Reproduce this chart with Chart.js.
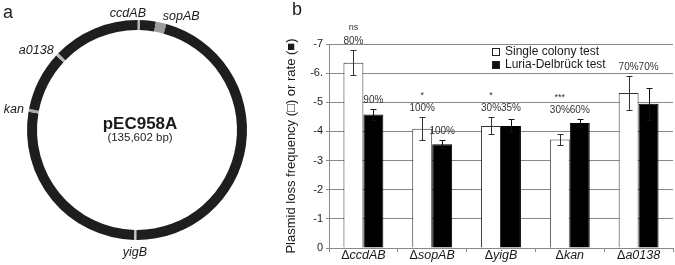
<!DOCTYPE html>
<html>
<head>
<meta charset="utf-8">
<script src="https://cdn.jsdelivr.net/npm/chart.js@4.4.0/dist/chart.umd.min.js"></script>
<style>
	body { margin: 0; background: #fff; width: 675px; height: 265px; position: relative; overflow: hidden; }
	#mapCanvas { position: absolute; left: 0; top: 0; }
	#barCanvas { position: absolute; left: 284px; top: 0; }
</style>
</head>
<body>
<canvas id="mapCanvas" width="284" height="265"></canvas>
<canvas id="barCanvas" width="391" height="265"></canvas>
<script>
const FONT = '"Liberation Sans", Arial, Helvetica, sans-serif';

// panel a: plasmid map (positions in kb)
const plasmidName = 'pEC958A';
const plasmidSize = '(135,602 bp)';
const plasmidKb = 135.602;
const genes = ['ccdAB', 'sopAB', 'yigB', 'kan', 'a0138'];
const geneStartKb = [0.15, 3.73, 67.95, 105.28, 117.79];
const geneLenKb = [0.45, 2.11, 0.45, 0.6, 0.6];
const geneColors = ['#b4b4b4', '#9c9c9c', '#c4c4c4', '#a8a8a8', '#b8b8b8'];

// panel b: plasmid loss (log10), negative values
const categories = ['ccdAB', 'sopAB', 'yigB', 'kan', 'a0138'];
const singleColony = [-6.36, -4.09, -4.19, -3.72, -5.32];
const singleColonyErr = [0.44, 0.39, 0.29, 0.18, 0.58];
const luriaDelbruck = [-4.58, -3.56, -4.19, -4.29, -4.95];
const luriaDelbruckErr = [0.18, 0.14, 0.22, 0.12, 0.55];
const singlePct = ['80%', '100%', '30%', '30%', '70%'];
const luriaPct = ['90%', '100%', '35%', '60%', '70%'];
const significance = ['ns', '*', '*', '***', ''];
const sharedLabelLevel = [false, false, true, true, true];
const yTickLabels = ['-7', '-6.', '-5', '-4', '-3', '-2', '-1', '0'];

// build ring segments: backbone in dark, genes as light marks
const segData = [];
const segColors = [];
let cursor = 0;
genes.forEach((g, i) => {
	if (geneStartKb[i] > cursor) {
		segData.push(geneStartKb[i] - cursor);
		segColors.push('#1e1e1e');
	}
	segData.push(geneLenKb[i]);
	segColors.push(geneColors[i]);
	cursor = geneStartKb[i] + geneLenKb[i];
});
segData.push(plasmidKb - cursor);
segColors.push('#1e1e1e');

const mapLabels = {
	id: 'mapLabels',
	afterDraw(chart) {
		const arc = chart.getDatasetMeta(0).data[0];
		const cx = arc.x, cy = arc.y, R = arc.outerRadius;
		const ctx = chart.ctx;
		ctx.save();
		ctx.fillStyle = '#1a1a1a';
		ctx.font = 'italic 12.5px ' + FONT;
		genes.forEach((g, i) => {
			const a = (geneStartKb[i] + geneLenKb[i] / 2) / plasmidKb * 2 * Math.PI;
			const s = Math.sin(a), c = Math.cos(a);
			let x, y;
			if (c > 0.8) {
				ctx.textBaseline = 'alphabetic';
				x = cx + (R + 3) * s;
				y = cy - (R + 3) * c;
				if (s < 0.1) { ctx.textAlign = 'right'; x += 7; } else { ctx.textAlign = 'left'; x += 1; }
			} else if (c < -0.8) {
				ctx.textBaseline = 'top';
				ctx.textAlign = 'center';
				x = cx + (R + 6) * s;
				y = cy - (R + 6) * c;
			} else {
				ctx.textBaseline = 'middle';
				ctx.textAlign = s < 0 ? 'right' : 'left';
				x = cx + (R + 5) * s;
				y = cy - (R + 5) * c;
			}
			ctx.fillText(g, x, y);
		});
		// name in the middle
		ctx.textAlign = 'center';
		ctx.textBaseline = 'middle';
		ctx.font = 'bold 17px ' + FONT;
		ctx.fillText(plasmidName, cx + 3, cy - 6);
		ctx.font = '11.5px ' + FONT;
		ctx.fillStyle = '#222';
		ctx.fillText(plasmidSize, cx + 3, cy + 8);
		// panel letter
		ctx.font = '18px ' + FONT;
		ctx.textAlign = 'left';
		ctx.textBaseline = 'alphabetic';
		ctx.fillText('a', 3, 18);
		ctx.restore();
	}
};

new Chart(document.getElementById('mapCanvas'), {
	type: 'doughnut',
	data: {
		labels: segData.map((d, i) => 'seg' + i),
		datasets: [{
			data: segData,
			backgroundColor: segColors,
			borderWidth: 0
		}]
	},
	options: {
		responsive: false,
		animation: false,
		cutout: 100,
		layout: { padding: { left: 27, top: 20, right: 37, bottom: 25 } },
		plugins: { legend: { display: false }, tooltip: { enabled: false } }
	},
	plugins: [mapLabels]
});

// error bars, percentages, significance, legend, x labels
const barExtras = {
	id: 'barExtras',
	afterDatasetsDraw(chart) {
		const ctx = chart.ctx;
		const y = chart.scales.y;
		const metaS = chart.getDatasetMeta(0).data;
		const metaL = chart.getDatasetMeta(1).data;
		const errs = [singleColonyErr, luriaDelbruckErr];
		const vals = [singleColony, luriaDelbruck];
		ctx.save();
		ctx.lineWidth = 1;
		[metaS, metaL].forEach((meta, d) => {
			ctx.strokeStyle = d == 0 ? '#333' : '#111';
			meta.forEach((bar, i) => {
				const x = Math.round(bar.x) + 0.5;
				const top = Math.round(y.getPixelForValue(vals[d][i] - errs[d][i])) + 0.5;
				const bot = Math.round(y.getPixelForValue(vals[d][i] + errs[d][i])) + 0.5;
				ctx.beginPath();
				ctx.moveTo(x, top); ctx.lineTo(x, bot);
				ctx.moveTo(x - 3, top); ctx.lineTo(x + 3, top);
				ctx.moveTo(x - 3, bot); ctx.lineTo(x + 3, bot);
				ctx.stroke();
			});
		});

		// percentage labels above error bars
		ctx.fillStyle = '#333';
		ctx.textAlign = 'center';
		ctx.textBaseline = 'middle';
		categories.forEach((c, i) => {
			const topS = y.getPixelForValue(singleColony[i] - singleColonyErr[i]);
			const topL = y.getPixelForValue(luriaDelbruck[i] - luriaDelbruckErr[i]);
			let yS = topS - 9, yL = topL - 9;
			if (sharedLabelLevel[i]) {
				yS = yL = Math.min(topS, topL) - 9;
			}
			ctx.font = '10px ' + FONT;
			ctx.fillText(singlePct[i], metaS[i].x, yS);
			ctx.fillText(luriaPct[i], metaL[i].x, yL);
			if (significance[i]) {
				ctx.font = '9px ' + FONT;
				ctx.fillText(significance[i], metaS[i].x, yS - 13);
			}
		});

		// category labels: upright delta + italic gene
		const xs = chart.scales.x;
		ctx.fillStyle = '#1a1a1a';
		ctx.textBaseline = 'middle';
		categories.forEach((c, i) => {
			const cx = xs.getPixelForValue(i);
			ctx.font = '12.5px ' + FONT;
			const wD = ctx.measureText('\u0394').width;
			ctx.font = 'italic 12.5px ' + FONT;
			const wN = ctx.measureText(c).width;
			const x0 = cx - (wD + wN) / 2;
			ctx.textAlign = 'left';
			ctx.font = '12.5px ' + FONT;
			ctx.fillText('\u0394', x0, 256);
			ctx.font = 'italic 12.5px ' + FONT;
			ctx.fillText(c, x0 + wD, 256);
		});

		// legend inside the plot
		const area = chart.chartArea;
		const lx = area.left + 163;
		const rows = [
			{ text: 'Single colony test', fill: '#fff' },
			{ text: 'Luria-Delbr\u00fcck test', fill: '#111' }
		];
		rows.forEach((r, k) => {
			const cy = area.top + 7.5 + k * 13.5;
			ctx.fillStyle = r.fill;
			ctx.fillRect(lx, Math.round(cy - 4), 8, 8);
			ctx.strokeStyle = '#222';
			ctx.strokeRect(lx + 0.5, Math.round(cy - 4) + 0.5, 7, 7);
			ctx.fillStyle = '#1a1a1a';
			ctx.font = '12px ' + FONT;
			ctx.textAlign = 'left';
			ctx.fillText(r.text, lx + 13, cy);
		});

		// panel letter
		ctx.font = '18px ' + FONT;
		ctx.fillText('b', 8, 10);
		ctx.restore();
	}
};

new Chart(document.getElementById('barCanvas'), {
	type: 'bar',
	data: {
		labels: categories,
		datasets: [{
			label: 'Single colony test',
			data: singleColony,
			backgroundColor: '#fff',
			borderColor: '#333',
			borderWidth: 1,
			categoryPercentage: 0.58,
			barPercentage: 1.0
		}, {
			label: 'Luria-Delbrück test',
			data: luriaDelbruck,
			backgroundColor: '#000',
			borderColor: '#000',
			borderWidth: 1,
			categoryPercentage: 0.58,
			barPercentage: 1.0
		}]
	},
	options: {
		responsive: false,
		animation: false,
		layout: { padding: { top: 44, right: 2, left: 0, bottom: 0 } },
		plugins: { legend: { display: false }, tooltip: { enabled: false } },
		scales: {
			x: {
				grid: { offset: true, drawOnChartArea: false, tickLength: 4, color: '#888' },
				border: { color: '#888' },
				ticks: { display: false },
				afterFit(scale) { scale.height = 17; }
			},
			y: {
				reverse: true,
				min: -7,
				max: 0,
				ticks: {
					stepSize: 1,
					padding: 3,
					color: '#222',
					font: { family: FONT, size: 11 },
					callback: (v) => yTickLabels[v + 7]
				},
				grid: { color: '#888', tickLength: 3 },
				border: { color: '#888' },
				title: {
					display: true,
					text: 'Plasmid loss frequency (\u25a1) or rate (\u25a0)',
					color: '#1a1a1a',
					font: { family: FONT, size: 13 },
					padding: 0
				},
				afterFit(scale) { scale.width = 45; }
			}
		}
	},
	plugins: [barExtras]
});
</script>
</body>
</html>
